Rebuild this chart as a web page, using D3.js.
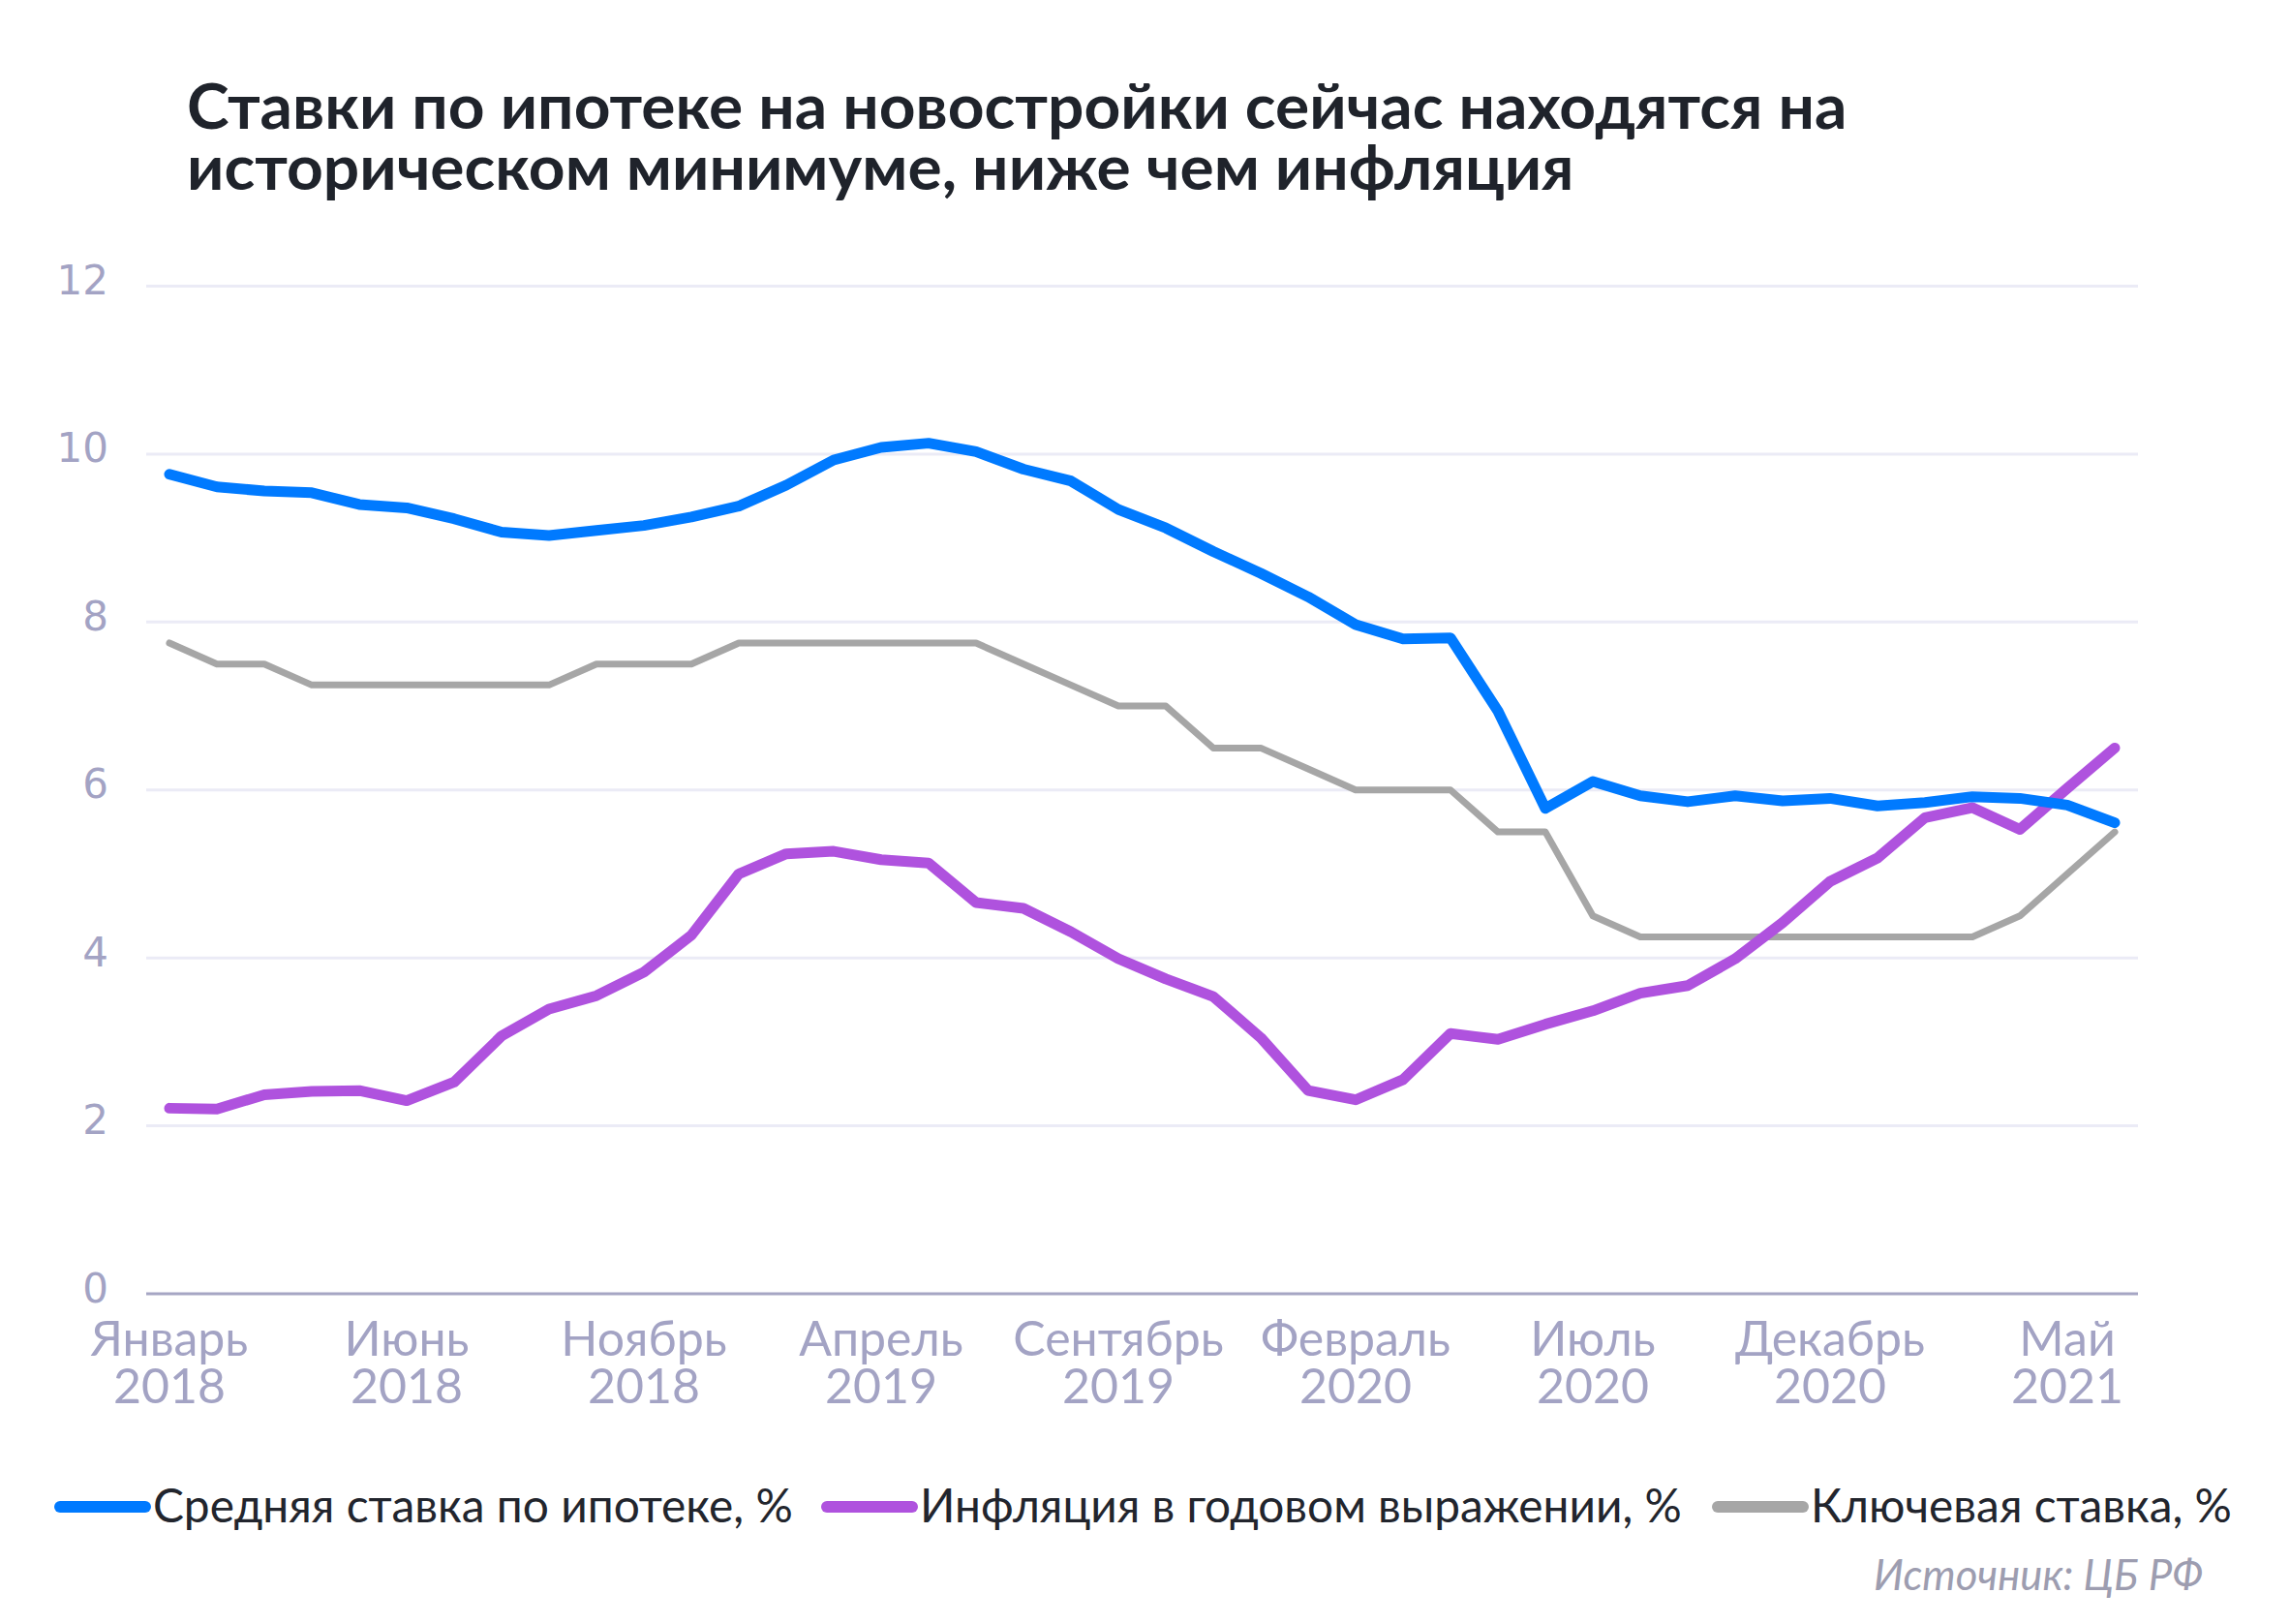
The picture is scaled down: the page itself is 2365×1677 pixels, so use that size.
<!DOCTYPE html>
<html><head><meta charset="utf-8">
<script src="https://cdn.jsdelivr.net/npm/d3@7"></script>
<style>
html,body{margin:0;padding:0;background:#fff;}
svg{display:block;}
</style></head>
<body>
<svg id="chart" width="2365" height="1677"></svg>
<script>
const months = ["2018-01","2018-02","2018-03","2018-04","2018-05","2018-06","2018-07","2018-08","2018-09","2018-10","2018-11","2018-12",
"2019-01","2019-02","2019-03","2019-04","2019-05","2019-06","2019-07","2019-08","2019-09","2019-10","2019-11","2019-12",
"2020-01","2020-02","2020-03","2020-04","2020-05","2020-06","2020-07","2020-08","2020-09","2020-10","2020-11","2020-12",
"2021-01","2021-02","2021-03","2021-04","2021-05","2021-06"];
const mortgage = [9.76,9.61,9.56,9.54,9.40,9.36,9.23,9.07,9.03,9.09,9.15,9.25,
9.38,9.63,9.93,10.08,10.13,10.03,9.82,9.68,9.34,9.12,8.84,8.58,
8.30,7.97,7.80,7.81,6.94,5.78,6.10,5.93,5.86,5.93,5.87,5.90,
5.81,5.85,5.92,5.90,5.82,5.61];
const inflation = [2.21,2.20,2.37,2.41,2.42,2.30,2.52,3.07,3.39,3.55,3.83,4.27,
5.00,5.24,5.27,5.17,5.13,4.66,4.59,4.31,3.99,3.75,3.54,3.05,
2.42,2.31,2.55,3.10,3.03,3.21,3.37,3.58,3.67,3.99,4.42,4.91,
5.19,5.67,5.79,5.53,6.02,6.50];
const keyRate = [7.75,7.50,7.50,7.25,7.25,7.25,7.25,7.25,7.25,7.50,7.50,7.50,
7.75,7.75,7.75,7.75,7.75,7.75,7.50,7.25,7.00,7.00,6.50,6.50,
6.25,6.00,6.00,6.00,5.50,5.50,4.50,4.25,4.25,4.25,4.25,4.25,
4.25,4.25,4.25,4.50,5.00,5.50];
const xTickMonths = ["2018-01","2018-06","2018-11","2019-04","2019-09","2020-02","2020-07","2020-12","2021-05"];
const xTickLabels = [["Январь","2018"],["Июнь","2018"],["Ноябрь","2018"],["Апрель","2019"],["Сентябрь","2019"],["Февраль","2020"],["Июль","2020"],["Декабрь","2020"],["Май","2021"]];
const yTicks = [0,2,4,6,8,10,12];
const seriesNames = ["Средняя ставка по ипотеке, %","Инфляция в годовом выражении, %","Ключевая ставка, %"];
const titleLines = ["Ставки по ипотеке на новостройки сейчас находятся на","историческом минимуме, ниже чем инфляция"];
const sourceText = "Источник: ЦБ РФ";

const svg = d3.select("#chart");
const FONT = "Lato, 'Noto Sans', sans-serif";

function fitText(sel, targetWidth){
  const n = sel.node();
  const w = n.getComputedTextLength();
  const fs = parseFloat(sel.attr("font-size"));
  sel.attr("font-size", fs * targetWidth / w);
}

// Title
const t1 = svg.append("text").attr("x",193).attr("y",133).attr("font-family",FONT).attr("font-weight",700)
  .attr("font-size",60).attr("fill","#1f232b").text(titleLines[0]);
fitText(t1, 1715);
const t2 = svg.append("text").attr("x",193).attr("y",196).attr("font-family",FONT).attr("font-weight",700)
  .attr("font-size",t1.attr("font-size")).attr("fill","#1f232b").text(titleLines[1]);

const x = d3.scalePoint().domain(months).range([175,2184]);
const y = d3.scaleLinear().domain([0,12]).range([1336,295.5]);
const gridX0 = 151, gridX1 = 2208;

// gridlines
svg.append("g").selectAll("line").data(yTicks.filter(d=>d>0)).join("line")
  .attr("x1",gridX0).attr("x2",gridX1).attr("y1",d=>y(d)).attr("y2",d=>y(d))
  .attr("stroke","#ebebf6").attr("stroke-width",3);
// baseline axis
svg.append("line").attr("x1",gridX0).attr("x2",gridX1).attr("y1",y(0)).attr("y2",y(0))
  .attr("stroke","#a6a6c4").attr("stroke-width",3);

// y tick labels
svg.append("g").selectAll("text").data(yTicks).join("text")
  .attr("x",112).attr("y",d=>y(d)-3).attr("text-anchor","end").attr("dominant-baseline","middle")
  .attr("font-family","'DejaVu Sans', sans-serif").attr("font-size",42).attr("fill","#a3a3c4")
  .text(d=>d);

// x tick labels
const xl = svg.append("g").selectAll("text").data(xTickMonths).join("text")
  .attr("text-anchor","middle").attr("font-family",FONT).attr("font-size",50).attr("fill","#a3a3c4");
xl.each(function(d,i){
  const s = d3.select(this);
  s.append("tspan").attr("x",x(d)).attr("y",1400).text(xTickLabels[i][0]);
  s.append("tspan").attr("x",x(d)).attr("y",1449).text(xTickLabels[i][1]);
});

// lines
const line = d3.line().x((d,i)=>x(months[i])).y(d=>y(d));
const series = [
  {vals: keyRate, color:"#a6a6a6", w:7},
  {vals: inflation, color:"#af52de", w:11},
  {vals: mortgage, color:"#007aff", w:11}
];
svg.append("g").selectAll("path").data(series).join("path")
  .attr("d",d=>line(d.vals)).attr("fill","none").attr("stroke",d=>d.color)
  .attr("stroke-width",d=>d.w).attr("stroke-linecap","round").attr("stroke-linejoin","round");

// legend
const legendItems = [
  {name: seriesNames[0], color:"#007aff", sx0:62, sx1:150, tx:158, tw:661},
  {name: seriesNames[1], color:"#af52de", sx0:854, sx1:942, tx:950, tw:787},
  {name: seriesNames[2], color:"#a6a6a6", sx0:1774, sx1:1862, tx:1870, tw:435}
];
const lg = svg.append("g");
legendItems.forEach(it=>{
  lg.append("line").attr("x1",it.sx0).attr("x2",it.sx1).attr("y1",1556).attr("y2",1556)
    .attr("stroke",it.color).attr("stroke-width",12).attr("stroke-linecap","round");
  const tt = lg.append("text").attr("x",it.tx).attr("y",1572).attr("font-family",FONT)
    .attr("font-size",46).attr("fill","#22252d").text(it.name);
  fitText(tt, it.tw);
});

// source
const src = svg.append("text").attr("x",2275).attr("y",1642).attr("text-anchor","end")
  .attr("font-family",FONT).attr("font-style","italic").attr("font-size",40).attr("fill","#9d9db0").text(sourceText);
fitText(src, 340);
</script>
</body></html>
